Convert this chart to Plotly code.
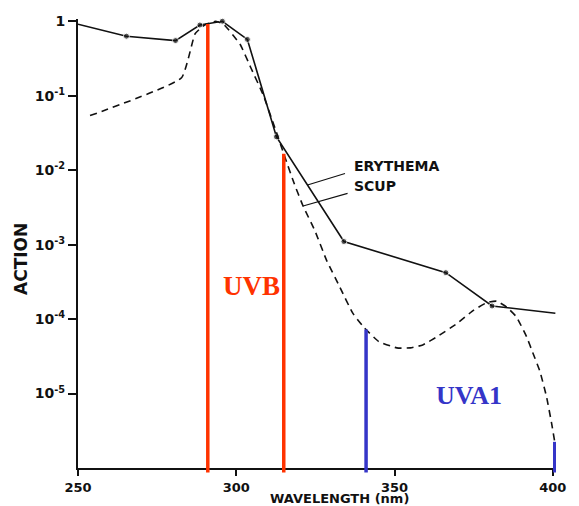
import numpy as np
import plotly.graph_objects as go

# ---------------- data ----------------
wl_erythema = [250.0, 265.3, 280.8, 288.5, 295.6, 303.5, 312.7, 334.0, 366.2, 380.8, 400.8]
act_erythema = [0.91, 0.63, 0.55, 0.89, 1.0, 0.57, 0.028, 1.1e-3, 4.2e-4, 1.5e-4, 1.2e-4]

wl_scup = [253.8, 282.7, 287.0, 290.0, 293.5, 296.0, 301.2, 304.6, 308.4, 312.2,
           315.4, 318.3, 321.1, 324.8, 328.5, 332.7, 336.8, 340.5, 345.0, 350.7,
           355.0, 358.9, 364.0, 369.7, 375.0, 379.1, 382.2, 385.4, 388.5, 391.7,
           393.7, 395.9, 398.0, 399.6, 400.8]
act_scup = [0.054, 0.174, 0.68, 0.89, 1.0, 0.91, 0.49, 0.237, 0.105, 0.037,
            0.0148, 6.6e-3, 3.3e-3, 1.55e-3, 6.2e-4, 2.7e-4, 1.2e-4, 7.6e-5, 5.0e-5, 4.1e-5,
            4.1e-5, 4.5e-5, 6.0e-5, 8.7e-5, 1.32e-4, 1.66e-4, 1.74e-4, 1.45e-4, 1.07e-4, 5.8e-5,
            3.5e-5, 2.0e-5, 9.1e-6, 4.0e-6, 2.0e-6]

band_edges = [291.0, 315.0, 341.0, 400.6]
band_names = ["UVB", "UVA1"]

x_tickvals = [250, 300, 350, 400]
x_ticktext = ["250", "300", "350", "400"]
y_tickvals = [1, 1e-1, 1e-2, 1e-3, 1e-4, 1e-5]
y_ticktext = ["1", "10<sup>-1</sup>", "10<sup>-2</sup>", "10<sup>-3</sup>",
              "10<sup>-4</sup>", "10<sup>-5</sup>"]

# ---------------- styling ----------------
RED = "#FF3300"
BLUE = "#3535C8"
band_colors = [RED, RED, BLUE, BLUE]
YMIN, YMAX = -6.0, 0.03
XTICKFONT = dict(family="DejaVu Sans", size=13, color="#111", weight="bold")
YTICKFONT = dict(family="DejaVu Sans", size=14, color="#111", weight="bold")

# the page body adds an 8px margin, so the figure is 8px smaller and margins shifted
PL, PT, PW, PH = 78, 20, 478, 450   # plot area in window pixels (left, top, width, height)
OFF = 8


def log_interp(xq, xs, ys):
    return float(np.interp(xq, xs, np.log10(ys)))


def px(x):
    return (x - PL) / PW


def py(y):
    return (PT - 1.5 + PH - y) / PH


fig = go.Figure()

n = len(wl_erythema)
fig.add_trace(go.Scatter(
    x=wl_erythema, y=act_erythema, mode="lines+markers",
    line=dict(color="#111", width=1.6),
    marker=dict(color="#111", size=[0] + [6] * (n - 2) + [0]),
    showlegend=False, cliponaxis=False))

fig.add_trace(go.Scatter(
    x=wl_scup, y=act_scup, mode="lines",
    line=dict(color="#111", width=1.6, dash="7px,5px", shape="spline", smoothing=0.4),
    showlegend=False))

# band edge lines, rising from just below the axis to the SCUP curve
for edge, col in zip(band_edges, band_colors):
    top = log_interp(edge, wl_scup, act_scup)
    fig.add_shape(type="line", xref="x", yref="paper",
                  x0=edge, x1=edge, y0=-0.01, y1=(top - YMIN) / (YMAX - YMIN),
                  line=dict(color=col, width=3.5), layer="above")

annotations = []
# curve names with leader lines
for name, xs, ys, wl_at, dx, dy, tx, ty in [
        ("ERYTHEMA", wl_erythema, act_erythema, 322.5, 39, -12, 352, 166),
        ("SCUP", wl_scup, act_scup, 321.1, 46, -13, 352, 186)]:
    annotations.append(dict(x=wl_at, y=log_interp(wl_at, xs, ys), xref="x", yref="y",
                            text="", showarrow=True, arrowhead=0, arrowwidth=1.2,
                            arrowcolor="#111", ax=dx, ay=dy))
    annotations.append(dict(x=px(tx), y=py(ty), xref="paper", yref="paper",
                            text=name, showarrow=False, xanchor="left", yanchor="middle",
                            font=dict(family="DejaVu Sans", size=14, color="#111", weight="bold")))

# band labels
annotations.append(dict(x=304.7, y=-3.56, xref="x", yref="y", text="<b>" + band_names[0] + "</b>",
                        showarrow=False, xanchor="center", yanchor="middle",
                        font=dict(family="Liberation Serif", size=27, color=RED)))
annotations.append(dict(x=373.6, y=-5.03, xref="x", yref="y", text="<b>" + band_names[1] + "</b>",
                        showarrow=False, xanchor="center", yanchor="middle",
                        font=dict(family="Liberation Serif", size=26, color=BLUE)))

# axis titles
annotations.append(dict(x=px(339), y=py(499), xref="paper", yref="paper",
                        text="WAVELENGTH (nm)", showarrow=False, xanchor="center", yanchor="middle",
                        font=dict(family="DejaVu Sans", size=13, color="#111", weight="bold")))
annotations.append(dict(x=px(21), y=py(259), xref="paper", yref="paper",
                        text="ACTION", showarrow=False, textangle=-90, xanchor="center",
                        yanchor="middle",
                        font=dict(family="DejaVu Sans", size=17, color="#111", weight="bold")))

W, H = 579 - OFF, 506 - OFF
fig.update_layout(
    width=W, height=H,
    margin=dict(l=PL - OFF, r=W - (PL - OFF) - PW, t=PT - OFF - 1.5, b=H - (PT - OFF - 1.5) - PH,
                autoexpand=False),
    paper_bgcolor="white", plot_bgcolor="white",
    annotations=annotations,
    xaxis=dict(range=[250, 401], tickvals=x_tickvals, ticktext=x_ticktext, automargin=False,
               showgrid=False, zeroline=False, showline=True, linecolor="#111", linewidth=2,
               ticks="outside", ticklen=6, tickwidth=2, tickcolor="#111", tickfont=XTICKFONT),
    yaxis=dict(type="log", range=[YMIN, YMAX], tickvals=y_tickvals, ticktext=y_ticktext,
               automargin=False,
               showgrid=False, zeroline=False, showline=True, linecolor="#111", linewidth=2,
               ticks="outside", ticklen=8, tickwidth=2, tickcolor="#111", tickfont=YTICKFONT),
)

fig.write_html("out.html")
